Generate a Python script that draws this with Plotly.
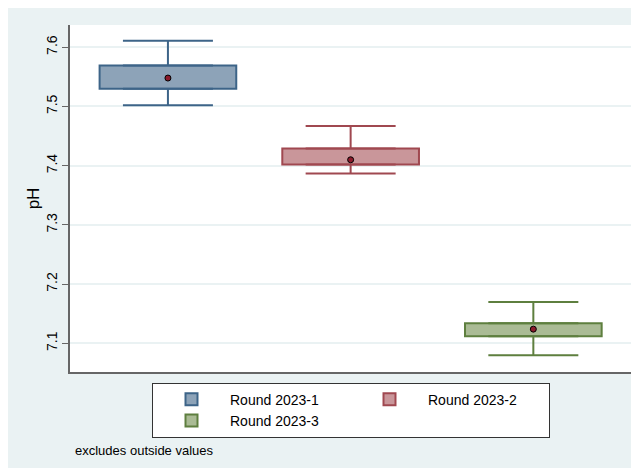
import plotly.graph_objects as go

# box summaries
rounds = ["Round 2023-1", "Round 2023-2", "Round 2023-3"]
lower = [7.502, 7.387, 7.080]
q1 = [7.530, 7.402, 7.112]
median = [7.548, 7.410, 7.124]
q3 = [7.569, 7.429, 7.134]
upper = [7.611, 7.467, 7.170]

fills = ["#8DA3B8", "#C9969A", "#AABB95"]
edges = ["#3D6488", "#A04850", "#5E7F3F"]
bg = "#EAF2F3"
font = "Liberation Sans, Arial, sans-serif"

fig = go.Figure()

for i, name in enumerate(rounds):
    # the box itself (q1 to q3)
    fig.add_trace(go.Bar(
        x=[i], base=[q1[i]], y=[q3[i] - q1[i]], width=0.748, name=name,
        marker=dict(color=fills[i], line=dict(color=edges[i], width=2)),
    ))
    # whiskers with caps
    fig.add_trace(go.Scatter(
        x=[i, i], y=[q3[i], q1[i]], mode="markers",
        marker=dict(size=1, opacity=0), showlegend=False,
        error_y=dict(type="data", symmetric=False,
                     array=[upper[i] - q3[i], 0],
                     arrayminus=[0, q1[i] - lower[i]],
                     color=edges[i], thickness=2, width=45),
    ))

# medians as markers
fig.add_trace(go.Scatter(
    x=list(range(len(rounds))), y=median, mode="markers", showlegend=False,
    marker=dict(size=6, color="#8B1A2B", line=dict(color="black", width=1)),
))

# page body adds 8px, so the figure is sized to fit the window
fig.update_layout(
    width=631, height=460,
    margin=dict(l=62, r=7, t=17, b=96),
    paper_bgcolor=bg, plot_bgcolor="white",
    barmode="overlay",
    font=dict(family=font, size=14, color="black"),
    legend=dict(orientation="h", x=0.5, xanchor="center", y=-0.031, yanchor="top",
                entrywidth=116, itemwidth=67, bgcolor="white",
                bordercolor="#333333", borderwidth=1, font=dict(size=14)),
    annotations=[dict(text="excludes outside values", xref="paper", yref="paper",
                      x=0.005, y=-0.2248, xanchor="left", yanchor="middle",
                      showarrow=False, font=dict(size=13))],
)

fig.update_xaxes(range=[-0.536, 2.54], showticklabels=False, ticks="", showgrid=False,
                 zeroline=False, showline=True, linecolor="#666666", linewidth=1.5)
fig.update_yaxes(range=[7.0516, 7.6376], tickvals=[7.1, 7.2, 7.3, 7.4, 7.5, 7.6],
                 ticktext=["7.1", "7.2", "7.3", "7.4", "7.5", "7.6"], tickangle=-90,
                 ticks="outside", ticklen=6, tickcolor="#666666",
                 showline=True, linecolor="#666666", linewidth=1.5,
                 gridcolor=bg, gridwidth=2, zeroline=False, automargin=False,
                 title=dict(text="pH", standoff=0))

fig.write_html("out.html")
